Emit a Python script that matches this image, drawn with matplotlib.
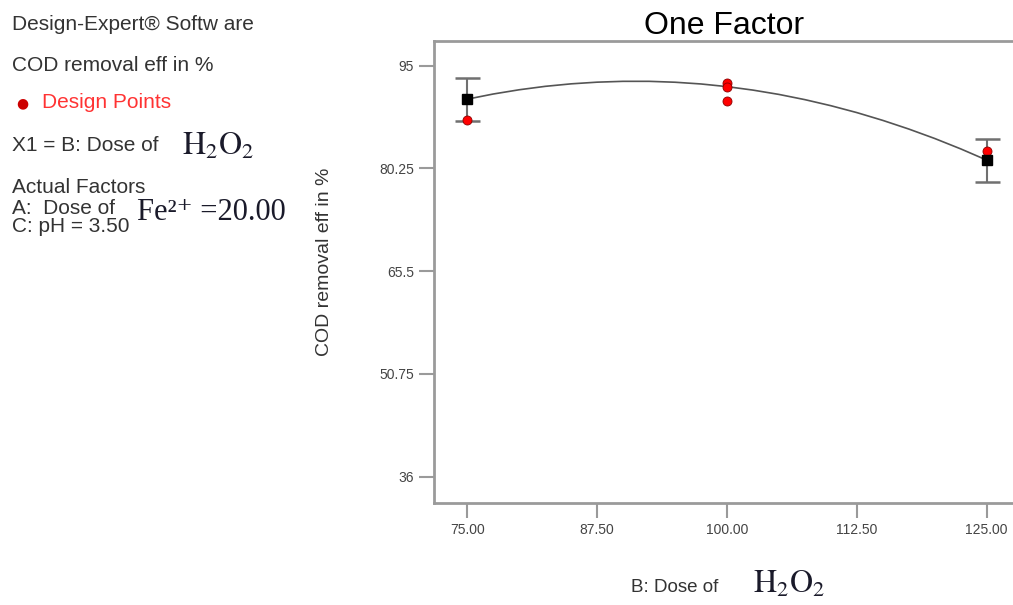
import matplotlib

matplotlib.use("Agg")
import matplotlib.pyplot as plt

# Design points and model fit
dose_levels = [75.0, 100.0, 125.0]
mean_response = [90.2, 92.0, 81.45]
ci_half_width = [3.1, 0.0, 3.1]

design_x = [75.0, 100.0, 100.0, 100.0, 125.0]
design_y = [87.2, 92.5, 91.9, 90.0, 82.8]

curve_x = [75.0, 77.5, 80.0, 82.5, 85.0, 87.5, 90.0, 92.5, 95.0, 97.5, 100.0,
           102.5, 105.0, 107.5, 110.0, 112.5, 115.0, 117.5, 120.0, 122.5, 125.0]
curve_y = [90.20, 90.94, 91.55, 92.04, 92.40, 92.64, 92.76, 92.76, 92.63, 92.38,
           92.00, 91.50, 90.88, 90.13, 89.26, 88.27, 87.15, 85.91, 84.55, 83.06,
           81.45]

x_ticks = [75.0, 87.5, 100.0, 112.5, 125.0]
y_ticks = [36.0, 50.75, 65.5, 80.25, 95.0]
y_tick_labels = ["36", "50.75", "65.5", "80.25", "95"]

plt.rcParams["font.family"] = ["Liberation Sans", "DejaVu Sans"]
plt.rcParams["mathtext.fontset"] = "stix"

SANS_GREY = "#333333"
AXIS_GREY = "#9a9a9a"
SERIF = ["Liberation Serif", "STIXGeneral", "DejaVu Serif"]
INK = "#1a1a2a"

fig = plt.figure(figsize=(10.13, 6.05), dpi=100)
ax = fig.add_axes([0.4287, 0.1691, 0.5713, 0.7636])

# fitted curve
ax.plot(curve_x, curve_y, color="#555555", lw=1.2, zorder=2)

# confidence bars on predicted means (only where drawn)
bar_x = [x for x, h in zip(dose_levels, ci_half_width) if h > 0]
bar_y = [y for y, h in zip(mean_response, ci_half_width) if h > 0]
bar_h = [h for h in ci_half_width if h > 0]
ax.errorbar(bar_x, bar_y, yerr=bar_h, fmt="none", ecolor="#707070",
            elinewidth=1.5, capsize=9, capthick=1.8, zorder=3)
ax.plot(bar_x, bar_y, "s", color="black", markersize=7, zorder=5)

# design points
ax.plot(design_x, design_y, "o", color="red", markeredgecolor="#8b0000",
        markeredgewidth=0.6, markersize=6.5, zorder=4)

ax.set_xlim(71.82, 127.53)
ax.set_ylim(32.27, 98.59)
ax.set_xticks(x_ticks)
ax.set_xticklabels([f"{v:.2f}" for v in x_ticks])
ax.set_yticks(y_ticks)
ax.set_yticklabels(y_tick_labels)
ax.tick_params(direction="out", length=10.5, width=1.5, color=AXIS_GREY,
               labelsize=10, labelcolor="#444444", pad=4)

for side in ["left", "bottom", "top"]:
    ax.spines[side].set_color(AXIS_GREY)
    ax.spines[side].set_linewidth(2)
ax.spines["right"].set_visible(False)

ax.set_title("One Factor", fontsize=23, color="black", pad=5)
fig.text(0.3208, 0.567, "COD removal eff in %", fontsize=14, color=SANS_GREY,
         rotation=90, ha="center", va="center")

# x axis label with serif formula
fig.text(0.7095, 0.021, "B: Dose of", fontsize=13.5, color=SANS_GREY,
         ha="right", va="baseline")
fig.text(0.7435, 0.021, r"$\mathrm{H_2O_2}$", fontsize=23, color=INK,
         ha="left", va="baseline")

# left info panel
fig.text(0.012, 0.960, "Design-Expert® Softw are", fontsize=15, color=SANS_GREY,
         va="center")
fig.text(0.012, 0.891, "COD removal eff in %", fontsize=15, color=SANS_GREY,
         va="center")
fig.text(0.022, 0.830, "●", fontsize=10, color="#cc0000", va="center",
         ha="center", family="DejaVu Sans")
fig.text(0.041, 0.830, "Design Points", fontsize=15, color="#ff3333",
         va="center")
fig.text(0.012, 0.760, "X1 = B: Dose of", fontsize=15, color=SANS_GREY,
         va="center")
fig.text(0.180, 0.758, r"$\mathrm{H_2O_2}$", fontsize=23, color=INK,
         va="center")
fig.text(0.012, 0.690, "Actual Factors", fontsize=15, color=SANS_GREY,
         va="center")
fig.text(0.012, 0.656, "A:  Dose of", fontsize=15, color=SANS_GREY,
         va="center")
fig.text(0.135, 0.648, "Fe²⁺ =20.00", fontsize=22, color=INK, va="center",
         family=SERIF)
fig.text(0.012, 0.625, "C: pH = 3.50", fontsize=15, color=SANS_GREY,
         va="center")

fig.savefig("out.png", dpi=100)
